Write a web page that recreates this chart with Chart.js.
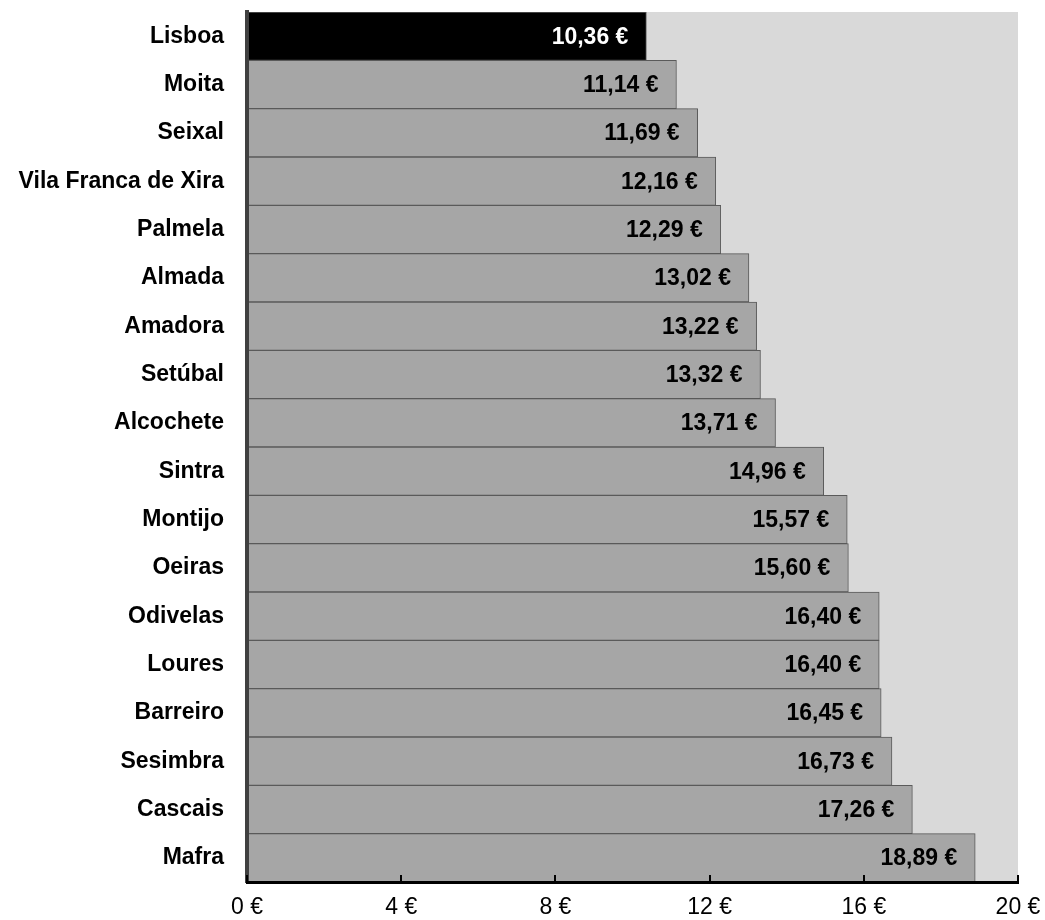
<!DOCTYPE html>
<html>
<head>
<meta charset="utf-8">
<script src="https://cdn.jsdelivr.net/npm/chart.js@4/dist/chart.umd.min.js"></script>
<style>
   body { margin: 0; background: #ffffff; }
   #wrapper { width: 1045px; height: 920px; }
</style>
</head>
<body>
<div id="wrapper"><canvas id="price-chart"></canvas></div>
<script>
// Concelhos, ordered from cheapest to most expensive
const municipalities = ['Lisboa', 'Moita', 'Seixal', 'Vila Franca de Xira', 'Palmela', 'Almada', 'Amadora', 'Setúbal', 'Alcochete', 'Sintra', 'Montijo', 'Oeiras', 'Odivelas', 'Loures', 'Barreiro', 'Sesimbra', 'Cascais', 'Mafra'];
const prices = [10.36, 11.14, 11.69, 12.16, 12.29, 13.02, 13.22, 13.32, 13.71, 14.96, 15.57, 15.60, 16.40, 16.40, 16.45, 16.73, 17.26, 18.89];
const highlighted = 'Lisboa';
const axisMax = 20;
const axisStep = 4;

const chartElement = document.getElementById('price-chart');

function formatEuro(value) {
   return `${value.toFixed(2).replace('.', ',')} €`;
}

// grey panel behind the bars
const plotBackground = {
   id: 'plotBackground',
   beforeDraw(chart) {
      const { ctx, chartArea } = chart;
      ctx.save();
      ctx.fillStyle = '#d9d9d9';
      ctx.fillRect(chartArea.left, chartArea.top, chartArea.right - chartArea.left, chartArea.bottom - chartArea.top);
      ctx.restore();
   }
};

// value written inside the end of each bar
const barValues = {
   id: 'barValues',
   afterDatasetsDraw(chart) {
      const ctx = chart.ctx;
      const meta = chart.getDatasetMeta(0);
      ctx.save();
      ctx.font = 'bold 23px "Liberation Sans", Arial, sans-serif';
      ctx.textAlign = 'right';
      ctx.textBaseline = 'middle';
      meta.data.forEach((bar, i) => {
         ctx.fillStyle = municipalities[i] === highlighted ? '#ffffff' : '#000000';
         ctx.fillText(formatEuro(prices[i]), bar.x - 18, bar.y + 1);
      });
      ctx.restore();
   }
};

// small tick marks pointing up from the x axis
const innerTicks = {
   id: 'innerTicks',
   afterDraw(chart) {
      const ctx = chart.ctx;
      const xScale = chart.scales.x;
      const bottom = chart.chartArea.bottom;
      ctx.save();
      ctx.strokeStyle = '#000000';
      ctx.lineWidth = 2;
      for (const tick of xScale.ticks) {
         const x = Math.round(xScale.getPixelForValue(tick.value));
         ctx.beginPath();
         ctx.moveTo(x, bottom);
         ctx.lineTo(x, bottom - 7);
         ctx.stroke();
      }
      ctx.restore();
   }
};

// keep the label overflow from pushing the plot area around
function noPadding(scale) {
   scale.paddingTop = 0;
   scale.paddingBottom = 0;
   scale.paddingLeft = 0;
   scale.paddingRight = 0;
}

const myChart = new Chart(chartElement, {
   type: 'bar',
   data: {
      labels: municipalities,
      datasets: [{
         data: prices,
         backgroundColor: municipalities.map(m => m === highlighted ? '#000000' : '#a6a6a6'),
         borderColor: '#5a5a5a',
         borderWidth: 1,
         barPercentage: 1,
         categoryPercentage: 1
      }]
   },
   options: {
      indexAxis: 'y',
      responsive: true,
      maintainAspectRatio: false,
      animation: false,
      layout: {
         padding: { top: 12, right: 27, bottom: 0, left: 0 }
      },
      scales: {
         x: {
            min: 0,
            max: axisMax,
            ticks: {
               stepSize: axisStep,
               padding: 12,
               color: '#000000',
               font: { family: '"Liberation Sans", Arial, sans-serif', size: 23 },
               callback: value => `${value} €`
            },
            grid: { display: false, drawTicks: false },
            border: { display: true, color: '#000000', width: 3, z: 2 },
            afterFit: scale => { scale.height = 38; noPadding(scale); }
         },
         y: {
            ticks: {
               padding: 23,
               color: '#000000',
               font: { family: '"Liberation Sans", Arial, sans-serif', size: 23, weight: 'bold' }
            },
            grid: { display: false, drawTicks: false },
            border: { display: true, color: '#404040', width: 4, z: 1 },
            afterFit: scale => { scale.width = 247; noPadding(scale); }
         }
      },
      plugins: {
         legend: { display: false },
         tooltip: { enabled: false }
      }
   },
   plugins: [plotBackground, barValues, innerTicks]
});
</script>
</body>
</html>
